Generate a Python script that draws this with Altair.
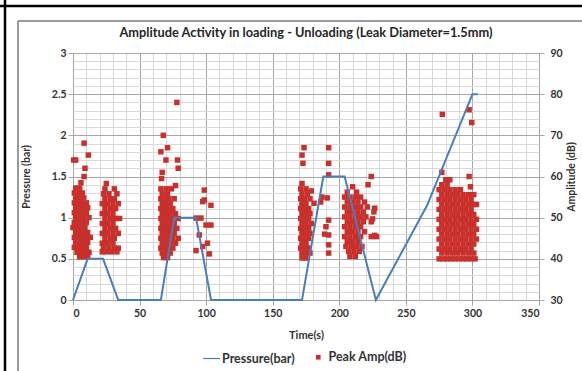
import altair as alt
import pandas as pd

# ---------------- data ----------------
# Pressure (bar) vs time (s)
P_TIME = [0, 11, 22.6, 34, 66, 76, 92.4, 103.7, 172, 188, 204, 227.5, 266, 300, 304]
P_BAR = [0, 0.5, 0.5, 0, 0, 1.0, 1.0, 0, 0, 1.5, 1.5, 0, 1.15, 2.5, 2.5]

# Peak amplitude (dB): dense bursts given as rows (amplitude, [times])
BURST1 = [
    (57.2, [2, 5]), (56.0, [1, 4, 7]), (54.8, [2, 5, 8]), (53.6, [1, 4, 7, 10]),
    (52.4, [2, 5, 8, 11]), (51.2, [1, 4, 7, 10]), (50.0, [2, 5, 8, 12]),
    (48.8, [1, 4, 7, 10]), (47.6, [0, 3, 6, 9]), (46.4, [2, 5, 8, 11]),
    (45.2, [1, 4, 7, 10, 13]), (44.0, [2, 5, 8, 11]), (42.8, [1, 4, 7, 10]),
    (41.6, [3, 6, 9, 12]), (40.5, [5, 8, 11]),
]
BURST2 = [
    (58.3, [25]), (57.0, [24, 31]), (55.8, [23, 27, 33]), (54.6, [24, 28, 31]),
    (53.4, [22, 26, 30, 34]), (52.2, [24, 28, 32]), (51.0, [22, 26, 30]),
    (49.8, [24, 28, 32, 35]), (48.6, [22, 26, 30]), (47.4, [24, 28, 32]),
    (46.2, [22, 26, 30, 34]), (45.0, [24, 28, 31]), (43.8, [22, 26, 30]),
    (42.6, [23, 27, 31, 34]), (41.7, [22, 25, 29, 33]),
]
BURST3 = [
    (57.0, [66, 70, 74]), (55.8, [67, 71]), (54.6, [66, 69, 72, 76]),
    (53.4, [67, 70, 73]), (52.2, [66, 69, 72, 75]), (51.0, [67, 70, 73, 77]),
    (49.8, [66, 69, 72, 75, 79]), (48.6, [67, 70, 73, 76]),
    (47.4, [66, 69, 72, 75, 78]), (46.2, [67, 70, 73, 76]),
    (45.0, [66, 69, 72, 75, 79]), (43.8, [67, 70, 73, 77]),
    (42.6, [66, 69, 72, 75]), (41.4, [67, 70, 73]), (40.3, [68, 71]),
]
BURST4 = [
    (58.3, [172]), (57.0, [171, 175]), (55.8, [172, 176]), (54.6, [171, 174, 178]),
    (53.4, [172, 175]), (52.2, [171, 174, 177]), (51.0, [172, 175, 178]),
    (49.8, [171, 174, 177]), (48.6, [172, 175, 179]), (47.4, [171, 174, 177]),
    (46.2, [172, 175, 178]), (45.0, [171, 174, 177]), (43.8, [172, 175]),
    (42.6, [171, 174, 177]), (41.4, [172, 175, 178]), (40.2, [172, 175]),
]
BURST6 = [
    (57.5, [210]), (56.2, [206, 213]), (55.0, [204, 208, 212, 216]),
    (53.8, [206, 210, 214, 219]), (52.6, [204, 208, 212, 216, 221]),
    (51.4, [206, 210, 214, 218, 226]), (50.2, [204, 208, 212, 216, 220]),
    (49.0, [206, 210, 214, 218, 224]), (47.8, [204, 208, 212, 216]),
    (46.6, [206, 210, 214, 219]), (45.4, [204, 208, 212, 216, 224, 228]),
    (44.2, [206, 210, 214]), (43.0, [205, 209, 213, 217]),
    (41.8, [207, 211, 215]), (40.6, [208, 212]),
]
BURST7 = [
    (59.2, [280, 283]), (58.0, [277, 281]), (56.8, [275, 279, 283, 287, 291]),
    (55.6, [277, 281, 285, 289, 293, 297, 301]),
    (54.4, [275, 279, 283, 287, 291, 295, 299]),
    (53.2, [277, 281, 285, 289, 293, 297, 301, 303]),
    (52.0, [275, 279, 283, 287, 291, 295, 299]),
    (50.8, [277, 281, 285, 289, 293, 297, 301]),
    (49.6, [275, 279, 283, 287, 291, 295, 299, 303]),
    (48.4, [277, 281, 285, 289, 293, 297, 301]),
    (47.2, [275, 279, 283, 287, 291, 295, 299, 303]),
    (46.0, [277, 281, 285, 289, 293, 297, 301]),
    (44.8, [275, 279, 283, 287, 291, 295, 299, 303]),
    (43.6, [277, 281, 285, 289, 293, 297, 301]),
    (42.4, [275, 279, 283, 287, 291, 295, 299]),
    (41.4, [277, 281, 285, 289, 293, 297, 301]),
    (40.0, [275, 278, 281, 284, 287, 290, 293, 296, 299, 302]),
]
# isolated hits (time, amplitude)
SPARSE = [
    (8.3, 68.1), (11.5, 65.2), (2, 64), (0.5, 64), (9, 62), (8.3, 60), (6, 58.5),
    (67.8, 70), (71, 67), (66, 66), (69.8, 64), (78.5, 64), (79, 62), (67, 61),
    (66.5, 59.5), (77, 57.8), (78, 78),
    (92.4, 49.9), (96.1, 49.9), (99.9, 48.2), (103.6, 48.2), (94.9, 45.8),
    (101, 43.8), (92.4, 42), (97.4, 43), (102.4, 41.2), (98.6, 54.3),
    (103.6, 53), (98.6, 56.7), (97.4, 53.9),
    (173.5, 67), (172, 65.2), (172.7, 63.2), (179, 56.5), (181, 53.5),
    (192, 67), (192, 63.2), (192, 60.4), (187, 55), (191, 54.8), (192, 49.4),
    (190, 47.8), (192, 45.8), (192, 43.4), (192, 41.4), (189, 46), (186, 53.8),
    (224, 60), (221.6, 58), (226.6, 52.3), (225, 49.7), (226.6, 45.7),
    (277.4, 75.1), (297.5, 76.2), (299.5, 73.1), (277, 61), (297.5, 60), (298.5, 57.5),
]

X_TICKS = list(range(0, 351, 10))
Y_TICKS = [0, 0.1, 0.2, 0.3, 0.4, 0.5, 0.6, 0.7, 0.8, 0.9, 1.0, 1.1, 1.2, 1.3, 1.4,
           1.5, 1.6, 1.7, 1.8, 1.9, 2.0, 2.1, 2.2, 2.3, 2.4, 2.5, 2.6, 2.7, 2.8, 2.9, 3.0]
AMP_TICKS = [30, 40, 50, 60, 70, 80, 90]
SERIES = ["Pressure(bar)", "Peak Amp(dB)"]

# ---------------- tables ----------------
pressure_df = pd.DataFrame({"t": P_TIME, "p": P_BAR})
pressure_df["series"] = SERIES[0]
amp_rows = []
for burst in (BURST1, BURST2, BURST3, BURST4, BURST6, BURST7):
    for a, ts in burst:
        for t in ts:
            amp_rows.append({"t": t, "a": a})
for t, a in SPARSE:
    amp_rows.append({"t": t, "a": a})
amp_df = pd.DataFrame(amp_rows)
amp_df["series"] = SERIES[1]

# ---------------- style ----------------
FONT = "Lato"
TXT = "#333333"
MINOR = "#d9d9d9"
MAJOR = "#a6a6a6"
BLUE = "#4a7ebb"
RED = "#c9302c"

X_MAJOR_TEST = "datum.value % 50 === 0"
Y_MAJOR_TEST = "abs(datum.value * 2 - round(datum.value * 2)) < 0.000001"

x_enc = alt.X(
    "t:Q",
    scale=alt.Scale(domain=[0, 350], nice=False, zero=False),
    title="Time(s)",
    axis=alt.Axis(
        values=X_TICKS,
        labelExpr=X_MAJOR_TEST + " ? datum.label : ''",
        grid=True,
        gridColor={"condition": {"test": X_MAJOR_TEST, "value": MAJOR}, "value": MINOR},
        gridWidth=1,
        domain=False,
        ticks=True,
        tickSize=5,
        tickColor=MAJOR,
        tickOpacity={"condition": {"test": X_MAJOR_TEST, "value": 1}, "value": 0},
        labelPadding=3,
        labelFont=FONT, labelFontSize=10.5, labelFontWeight="bold", labelColor=TXT,
        titleFont=FONT, titleFontSize=11, titleFontWeight="bold", titleColor=TXT,
        titlePadding=11,
        labelOverlap=False,
    ),
)

# frame decorations (page border and chart-area border)
one = alt.Data(values=[{"k": 0}])


def frame(x, x2, y, y2, color, w):
    return alt.Chart(one).mark_rule(color=color, strokeWidth=w).encode(
        x=alt.value(x), x2=alt.value(x2), y=alt.value(y), y2=alt.value(y2)
    )


frames = alt.layer(
    frame(-73, 509, -47, -47, "#000000", 2.5),
    frame(-68, -68, -53, 318, "#000000", 2.5),
    frame(-55, 509, -32, -32, "#7a7a7a", 1.5),
    frame(-55, -55, -32, 318, "#7a7a7a", 1.5),
)

points = alt.Chart(amp_df).mark_square(size=30, opacity=1, strokeWidth=0).encode(
    x=x_enc,
    y=alt.Y(
        "a:Q",
        scale=alt.Scale(domain=[30, 90], nice=False, zero=False),
        title="Amplitude (dB)",
        axis=alt.Axis(
            orient="right",
            values=AMP_TICKS,
            grid=False,
            domain=False,
            ticks=True, tickSize=5, tickColor=MAJOR,
            labelPadding=6,
            labelFont=FONT, labelFontSize=10.5, labelFontWeight="bold", labelColor=TXT,
            titleFont=FONT, titleFontSize=10.5, titleFontWeight="bold", titleColor=TXT,
            titleAngle=270, titlePadding=14,
        ),
    ),
    color=alt.Color(
        "series:N",
        scale=alt.Scale(domain=[SERIES[1]], range=[RED]),
        legend=alt.Legend(
            orient="none", legendX=239, legendY=298, title=None, padding=0,
            symbolType="square", symbolSize=22, symbolStrokeWidth=0,
            labelFont=FONT, labelFontSize=12.5, labelFontWeight="bold", labelColor=TXT,
            labelOffset=4,
        ),
    ),
)

line = alt.Chart(pressure_df).mark_line(strokeWidth=2).encode(
    x=x_enc,
    y=alt.Y(
        "p:Q",
        scale=alt.Scale(domain=[0, 3], nice=False, zero=False),
        title="Pressure (bar)",
        axis=alt.Axis(
            orient="left",
            values=Y_TICKS,
            labelExpr=Y_MAJOR_TEST + " ? format(datum.value, '~g') : ''",
            grid=True,
            gridColor={"condition": {"test": Y_MAJOR_TEST, "value": MAJOR}, "value": MINOR},
            domain=False,
            ticks=True, tickSize=5, tickColor=MAJOR,
            tickOpacity={"condition": {"test": Y_MAJOR_TEST, "value": 1}, "value": 0},
            labelPadding=2,
            labelFont=FONT, labelFontSize=10.5, labelFontWeight="bold", labelColor=TXT,
            titleFont=FONT, titleFontSize=10.5, titleFontWeight="bold", titleColor=TXT,
            titlePadding=20,
            labelOverlap=False,
        ),
    ),
    color=alt.Color(
        "series:N",
        scale=alt.Scale(domain=[SERIES[0]], range=[BLUE]),
        legend=alt.Legend(
            orient="none", legendX=129, legendY=296, title=None, padding=0,
            symbolType="stroke", symbolSize=290, symbolStrokeWidth=1.2,
            labelFont=FONT, labelFontSize=12.5, labelFontWeight="bold", labelColor=TXT,
            labelOffset=1,
        ),
    ),
)

chart = (
    alt.layer(frames, points, line)
    .resolve_scale(y="independent", color="independent")
    .properties(
        width=466,
        height=247,
        autosize=alt.AutoSizeParams(type="none"),
        padding={"left": 73, "top": 53, "right": 43, "bottom": 71},
        background="white",
        title=alt.TitleParams(
            "Amplitude Activity in loading - Unloading (Leak Diameter=1.5mm)",
            font=FONT, fontSize=12.8, fontWeight="bold", color="#262626",
            anchor="middle", frame="group", offset=0, dy=41,
        ),
    )
    .configure_view(stroke=MAJOR, strokeWidth=1)
)

chart.save("out.html", embed_options={"renderer": "svg", "actions": False})
